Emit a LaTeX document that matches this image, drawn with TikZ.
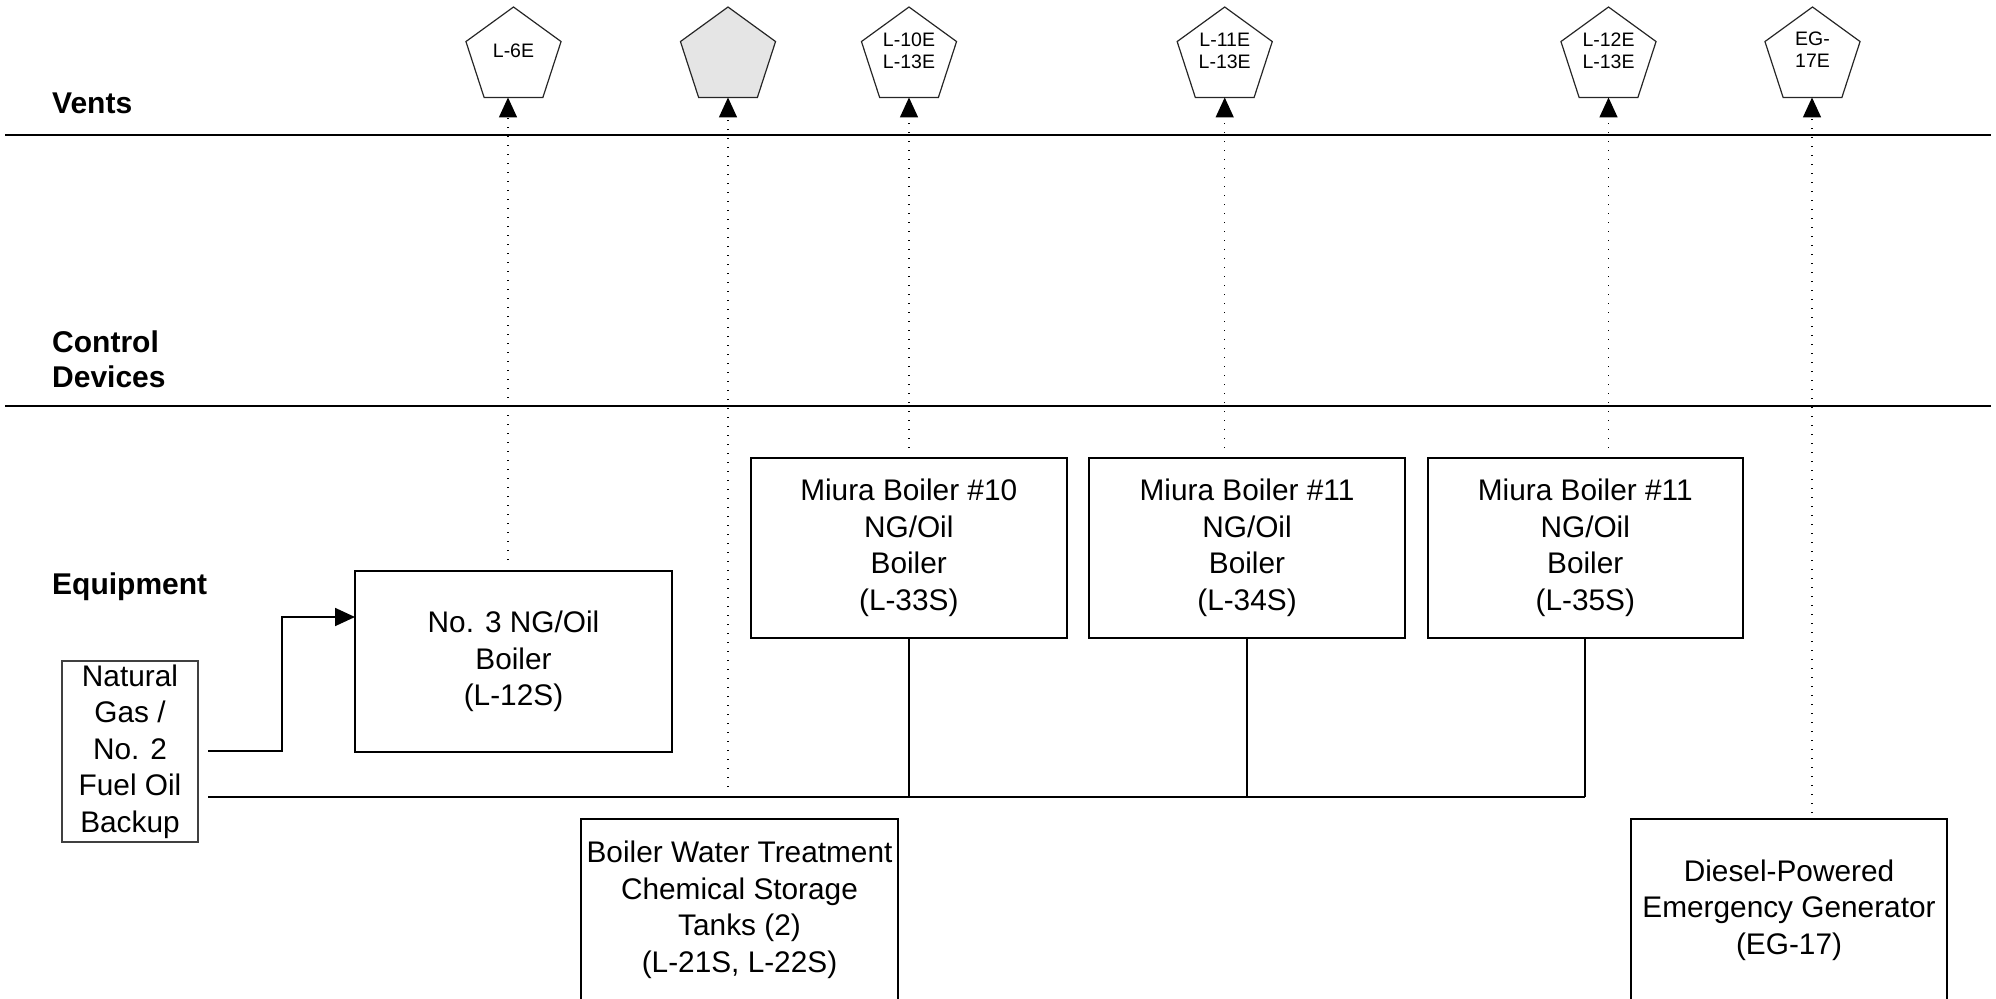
\documentclass[tikz,border=0pt]{standalone}
\usepackage{fontspec}
\setmainfont{Liberation Sans}
\usetikzlibrary{arrows.meta,shapes.geometric,calc}
\begin{document}
\begin{tikzpicture}[x=1pt,y=-1pt,
  box/.style={draw, line width=2pt, inner sep=0pt, outer sep=0pt, align=center,
    minimum height=181pt, font=\fontsize{29.8}{36.5}\selectfont},
  srcbox/.style={draw=black!75, line width=1.5pt, inner sep=0pt, outer sep=0pt, align=center,
    minimum width=136pt, minimum height=181pt, font=\fontsize{29.8}{36.5}\selectfont},
  pent/.style={regular polygon, regular polygon sides=5, minimum size=100pt,
    inner sep=0pt, outer sep=0pt, draw=black!85, line width=1.2pt},
  ptext/.style={anchor=center, inner sep=0pt, align=center, font=\fontsize{19.5}{22}\selectfont},
  lab/.style={inner sep=0pt, align=left, font=\fontsize{30}{35}\selectfont\bfseries},
  sec/.style={line width=2.2pt},
  conn/.style={line width=1.8pt},
  feed/.style={line width=1.8pt, -{Triangle[length=20pt,width=18pt]}},
  ventarrow/.style={line width=1.5pt, dash pattern=on 1.5pt off 7.5pt,
    -{Triangle[length=20pt,width=18pt]}}
]
\useasboundingbox (0,0) rectangle (1996,998);

% section lines
\draw[sec] (5,135) -- (1991,135);
\draw[sec] (5,406) -- (1991,406);

% row labels
\node[lab, anchor=base west] (lv) at (52,113) {Vents};
\node[lab, anchor=north west] (lc) at (52,331) {Control\\Devices};
\node[lab, anchor=base west] (le) at (52,594) {Equipment};

% vents
\node[pent] (p1) at (513.5,57) {};
\node[pent, fill=gray!20] (p2) at (728,57) {};
\node[pent] (p3) at (909,57) {};
\node[pent] (p4) at (1224.7,57) {};
\node[pent] (p5) at (1608.5,57) {};
\node[pent] (p6) at (1812.5,57) {};
\node[ptext] (t1) at (513.5,51) {L-6E};
\node[ptext] (t3) at (909,51) {L-10E\\L-13E};
\node[ptext] (t4) at (1224.7,51) {L-11E\\L-13E};
\node[ptext] (t5) at (1608.5,51) {L-12E\\L-13E};
\node[ptext] (t6) at (1812.5,50) {EG-\\17E};

% equipment
\node[srcbox] (ng) at (130,751.5) {Natural\\Gas /\\No. 2\\Fuel Oil\\Backup};
\node[box, minimum width=317pt] (m3) at (513.5,661.5) {No. 3 NG/Oil\\Boiler\\(L-12S)};
\node[box, minimum width=316.5pt, minimum height=180pt] (m1) at (908.75,548) {Miura Boiler \#10\\NG/Oil\\Boiler\\(L-33S)};
\node[box, minimum width=316pt, minimum height=180pt] (m2) at (1247,548) {Miura Boiler \#11\\NG/Oil\\Boiler\\(L-34S)};
\node[box, minimum width=315.5pt, minimum height=180pt] (m4) at (1585.25,548) {Miura Boiler \#11\\NG/Oil\\Boiler\\(L-35S)};
\node[box, minimum width=317pt, minimum height=182pt] (bw) at (739.5,910) {Boiler Water Treatment\\Chemical Storage\\Tanks (2)\\(L-21S, L-22S)};
\node[box, minimum width=316pt, minimum height=182pt] (dg) at (1789,910) {Diesel-Powered\\Emergency Generator\\(EG-17)};

% fuel connectors
\coordinate (g1) at (208,751);
\coordinate (g2) at (208,797);
\draw[feed] (g1) -- (282,751) |- ([yshift=44.5pt]m3.west);
\draw[conn] (g2) -- (m4.south |- g2);
\draw[conn] (m1.south) -- (m1.south |- g2);
\draw[conn] (m2.south) -- (m2.south |- g2);
\draw[conn] (m4.south) -- (m4.south |- g2);

% vent connectors
\coordinate (d1) at (508,560);
\coordinate (d2) at (728,787);
\coordinate (d3) at (909,448);
\coordinate (d4) at (1224.7,448);
\coordinate (d5) at (1608.5,448);
\coordinate (d6) at (1812,813);
\draw[ventarrow] (d1) -- (d1 |- p1.south);
\draw[ventarrow] (d2) -- (d2 |- p2.south);
\draw[ventarrow] (d3) -- (d3 |- p3.south);
\draw[ventarrow] (d4) -- (d4 |- p4.south);
\draw[ventarrow] (d5) -- (d5 |- p5.south);
\draw[ventarrow] (d6) -- (d6 |- p6.south);
\end{tikzpicture}
\end{document}
